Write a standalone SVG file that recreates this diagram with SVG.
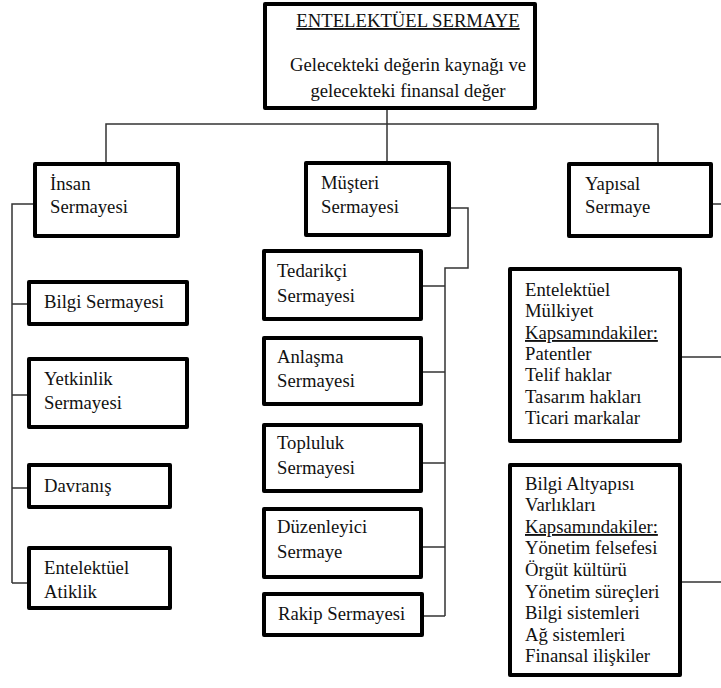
<svg xmlns="http://www.w3.org/2000/svg" width="721" height="688" viewBox="0 0 721 688">
<style>
.box{fill:#fff;stroke:#000;stroke-width:4;stroke-linejoin:round}
.t{font-family:'Liberation Serif','Tinos','DejaVu Serif',serif;font-size:18.7px;fill:#111}
.u{text-decoration:underline}
.c{fill:none;stroke:#333;stroke-width:1.5}
</style>
<rect width="721" height="688" fill="#fff"/>
<g id="connectors">
<path class="c" d="M106,162 V124 H658 V162 M387,110 V162"/>
<path class="c" d="M33,204 H12 V583 M12,304 H29 M12,395 H29 M12,488 H29 M12,583 H29"/>
<path class="c" d="M451,208 H468 V268 H445 V616 M423,286 H445 M423,372 H445 M423,463 H445 M423,547 H445 M424,616 H445"/>
<path class="c" d="M713,204 H721 M682,357 H721 M682,582 H721"/>
</g>
<g id="root">
<rect class="box" x="265" y="4" width="270" height="104"/>
<text class="t u" x="408" y="27" text-anchor="middle">ENTELEKTÜEL SERMAYE</text>
<text class="t" x="408" y="71" text-anchor="middle">Gelecekteki değerin kaynağı ve</text>
<text class="t" x="408" y="97" text-anchor="middle">gelecekteki finansal değer</text>
</g>
<g id="insan">
<rect class="box" x="35" y="164" width="143" height="72"/>
<text class="t" x="50" y="190">İnsan</text>
<text class="t" x="50" y="213">Sermayesi</text>
</g>
<g id="musteri">
<rect class="box" x="306" y="163" width="143" height="72"/>
<text class="t" x="321" y="189">Müşteri</text>
<text class="t" x="321" y="213">Sermayesi</text>
</g>
<g id="yapisal">
<rect class="box" x="569" y="164" width="142" height="72"/>
<text class="t" x="585" y="190">Yapısal</text>
<text class="t" x="585" y="213">Sermaye</text>
</g>
<g id="bilgi-sermayesi">
<rect class="box" x="29" y="282" width="158" height="42"/>
<text class="t" x="44" y="308">Bilgi Sermayesi</text>
</g>
<g id="yetkinlik">
<rect class="box" x="29" y="359" width="158" height="68"/>
<text class="t" x="44" y="385">Yetkinlik</text>
<text class="t" x="44" y="409">Sermayesi</text>
</g>
<g id="davranis">
<rect class="box" x="29" y="465" width="141" height="42"/>
<text class="t" x="44" y="492">Davranış</text>
</g>
<g id="atiklik">
<rect class="box" x="29" y="548" width="141" height="60"/>
<text class="t" x="44" y="574">Entelektüel</text>
<text class="t" x="44" y="598">Atiklik</text>
</g>
<g id="tedarikci">
<rect class="box" x="264" y="251" width="157" height="68"/>
<text class="t" x="277" y="277">Tedarikçi</text>
<text class="t" x="277" y="302">Sermayesi</text>
</g>
<g id="anlasma">
<rect class="box" x="264" y="338" width="157" height="66"/>
<text class="t" x="277" y="363">Anlaşma</text>
<text class="t" x="277" y="387">Sermayesi</text>
</g>
<g id="topluluk">
<rect class="box" x="264" y="425" width="157" height="66"/>
<text class="t" x="277" y="449">Topluluk</text>
<text class="t" x="277" y="474">Sermayesi</text>
</g>
<g id="duzenleyici">
<rect class="box" x="264" y="509" width="157" height="68"/>
<text class="t" x="277" y="533">Düzenleyici</text>
<text class="t" x="277" y="558">Sermaye</text>
</g>
<g id="rakip">
<rect class="box" x="264" y="594" width="158" height="41"/>
<text class="t" x="278" y="620">Rakip Sermayesi</text>
</g>
<g id="fikri-mulkiyet">
<rect class="box" x="510" y="269" width="170" height="172"/>
<text class="t" x="525" y="296">Entelektüel</text>
<text class="t" x="525" y="317">Mülkiyet</text>
<text class="t u" x="525" y="339">Kapsamındakiler:</text>
<text class="t" x="525" y="360">Patentler</text>
<text class="t" x="525" y="381">Telif haklar</text>
<text class="t" x="525" y="403">Tasarım hakları</text>
<text class="t" x="525" y="424">Ticari markalar</text>
</g>
<g id="bilgi-altyapisi">
<rect class="box" x="510" y="465" width="170" height="210"/>
<text class="t" x="525" y="490">Bilgi Altyapısı</text>
<text class="t" x="525" y="511">Varlıkları</text>
<text class="t u" x="525" y="533">Kapsamındakiler:</text>
<text class="t" x="525" y="554">Yönetim felsefesi</text>
<text class="t" x="525" y="576">Örgüt kültürü</text>
<text class="t" x="525" y="598">Yönetim süreçleri</text>
<text class="t" x="525" y="619">Bilgi sistemleri</text>
<text class="t" x="525" y="641">Ağ sistemleri</text>
<text class="t" x="525" y="662">Finansal ilişkiler</text>
</g>
</svg>
